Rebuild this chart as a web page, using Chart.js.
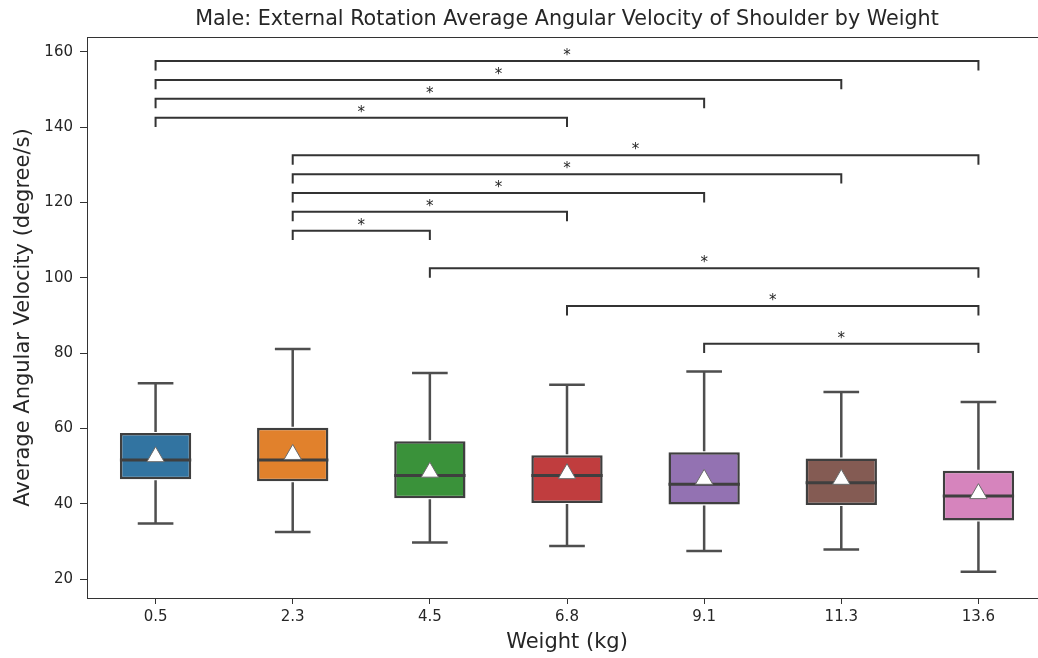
<!DOCTYPE html>
<html lang="en">
<head>
  <meta charset="UTF-8">
  <title>Male: External Rotation Average Angular Velocity</title>
  <script src="https://cdn.jsdelivr.net/npm/chart.js"></script>
  <style>
    html, body { margin: 0; padding: 0; background: #fff; overflow: hidden; }
    #boxChart { display: block; }
  </style>
</head>
<body>
  <!-- canvas a little wider than the window: the axes run past the right edge, as in the reference -->
  <canvas id="boxChart" width="1048" height="658"></canvas>

  <script>
    // categories and box statistics
    const weights = ['0.5', '2.3', '4.5', '6.8', '9.1', '11.3', '13.6'];
    const whiskerLow  = [34.8, 32.5, 29.7, 28.8, 27.5, 27.9, 22.0];
    const q1          = [46.5, 46.0, 41.5, 40.2, 39.8, 39.7, 35.6];
    const median      = [51.6, 51.6, 47.5, 47.5, 45.2, 45.6, 42.1];
    const q3          = [58.8, 60.2, 56.6, 52.9, 53.7, 52.0, 48.8];
    const whiskerHigh = [72.0, 81.1, 74.7, 71.6, 75.1, 69.7, 67.0];
    const means       = [52.5, 53.1, 48.4, 48.0, 46.5, 46.5, 42.7];

    // significance brackets (category index pairs), their level and label
    const bracketFrom  = [0, 0, 0, 0, 1, 1, 1, 1, 1, 2, 3, 4];
    const bracketTo    = [6, 5, 4, 3, 6, 5, 4, 3, 2, 6, 6, 6];
    const bracketLevel = [157.5, 152.5, 147.5, 142.5, 132.5, 127.5, 122.5, 117.5, 112.5, 102.5, 92.5, 82.5];
    const bracketText  = ['*', '*', '*', '*', '*', '*', '*', '*', '*', '*', '*', '*'];

    const yTicks = [20, 40, 60, 80, 100, 120, 140, 160];

    const boxColors = ['#3274a1', '#e1812c', '#3a923a', '#c03d3e', '#9372b2', '#845b53', '#d684bd'];
    const lineGray = '#3f3f3f';
    const textColor = '#262626';
    const font = 'DejaVu Sans';

    const boxExtras = {
      id: 'boxExtras',
      afterDatasetDraw(chart, args) {
        if (args.index !== 0) return;
        const { ctx, scales: { x, y } } = chart;
        const bars = chart.getDatasetMeta(0).data;
        ctx.save();
        ctx.lineCap = 'butt';
        bars.forEach((bar, i) => {
          const cx = x.getPixelForValue(i);
          const half = bar.width / 2;
          const capHalf = half / 2;
          const yHi = y.getPixelForValue(whiskerHigh[i]);
          const yLo = y.getPixelForValue(whiskerLow[i]);
          ctx.strokeStyle = '#4e4e4e';
          ctx.lineWidth = 2.5;
          ctx.beginPath();
          ctx.moveTo(cx, y.getPixelForValue(q3[i]) - 1);
          ctx.lineTo(cx, yHi);
          ctx.moveTo(cx, y.getPixelForValue(q1[i]) + 1);
          ctx.lineTo(cx, yLo);
          ctx.moveTo(cx - capHalf, yHi);
          ctx.lineTo(cx + capHalf, yHi);
          ctx.moveTo(cx - capHalf, yLo);
          ctx.lineTo(cx + capHalf, yLo);
          ctx.stroke();

          const ym = y.getPixelForValue(median[i]);
          ctx.strokeStyle = lineGray;
          ctx.lineWidth = 3;
          ctx.beginPath();
          ctx.moveTo(cx - half, ym);
          ctx.lineTo(cx + half, ym);
          ctx.stroke();
        });
        ctx.restore();
      },
      afterDatasetsDraw(chart) {
        const { ctx, chartArea, scales: { x, y } } = chart;
        ctx.save();
        // top spine
        ctx.strokeStyle = '#333';
        ctx.lineWidth = 1;
        ctx.beginPath();
        ctx.moveTo(chartArea.left, Math.round(chartArea.top) + 0.5);
        ctx.lineTo(chartArea.right, Math.round(chartArea.top) + 0.5);
        ctx.stroke();

        // brackets
        ctx.strokeStyle = '#333';
        ctx.lineWidth = 2;
        ctx.fillStyle = textColor;
        ctx.font = '15px "' + font + '"';
        ctx.textAlign = 'center';
        ctx.textBaseline = 'alphabetic';
        bracketLevel.forEach((lvl, k) => {
          const x1 = x.getPixelForValue(bracketFrom[k]);
          const x2 = x.getPixelForValue(bracketTo[k]);
          const yl = y.getPixelForValue(lvl);
          const yt = y.getPixelForValue(lvl - 2.5);
          ctx.beginPath();
          ctx.moveTo(x1, yt);
          ctx.lineTo(x1, yl);
          ctx.lineTo(x2, yl);
          ctx.lineTo(x2, yt);
          ctx.stroke();
          ctx.fillText(bracketText[k], (x1 + x2) / 2, yl - 1);
        });

        // title, centred over the axes
        ctx.font = '20.7px "' + font + '"';
        ctx.textBaseline = 'middle';
        ctx.fillText('Male: External Rotation Average Angular Velocity of Shoulder by Weight',
          (chartArea.left + chartArea.right) / 2, 20);
        ctx.restore();
      }
    };

    const ctx = document.getElementById('boxChart').getContext('2d');
    const boxChart = new Chart(ctx, {
      data: {
        labels: weights,
        datasets: [
          {
            type: 'bar',
            data: q1.map((v, i) => [v, q3[i]]),
            backgroundColor: boxColors,
            borderColor: lineGray,
            borderWidth: 2.5,
            borderSkipped: false,
            barPercentage: 0.52,
            categoryPercentage: 1,
            order: 2
          },
          {
            type: 'line',
            data: means,
            showLine: false,
            pointStyle: 'triangle',
            pointRadius: 10,
            pointBackgroundColor: '#ffffff',
            pointBorderColor: '#6a6a6a',
            pointBorderWidth: 1,
            order: 1
          }
        ]
      },
      options: {
        responsive: false,
        animation: false,
        layout: { autoPadding: false, padding: { top: 37, right: 1, left: 0, bottom: 0 } },
        plugins: {
          legend: { display: false },
          tooltip: { enabled: false }
        },
        scales: {
          x: {
            type: 'category',
            offset: true,
            grid: { display: true, offset: false, drawOnChartArea: false, drawTicks: true, tickLength: 6, color: '#333' },
            border: { display: true, color: '#333', width: 1 },
            ticks: { color: textColor, font: { family: font, size: 15 }, padding: 4, maxRotation: 0, autoSkip: false },
            title: { display: true, text: 'Weight (kg)', color: textColor, font: { family: font, size: 21 }, padding: { top: 2, bottom: 3 } },
            afterFit: (scale) => { scale.height = 60; }
          },
          y: {
            type: 'linear',
            min: 15,
            max: 163.9,
            afterBuildTicks: (axis) => { axis.ticks = yTicks.map(v => ({ value: v })); },
            grid: { display: true, drawOnChartArea: false, drawTicks: true, tickLength: 7, color: '#333' },
            border: { display: true, color: '#333', width: 1 },
            ticks: { color: textColor, font: { family: font, size: 15 }, padding: 7 },
            title: { display: true, text: 'Average Angular Velocity (degree/s)', color: textColor, font: { family: font, size: 21 }, padding: { top: 11, bottom: 8 } },
            afterFit: (scale) => { scale.width = 87; }
          }
        }
      },
      plugins: [boxExtras]
    });
  </script>
</body>
</html>
